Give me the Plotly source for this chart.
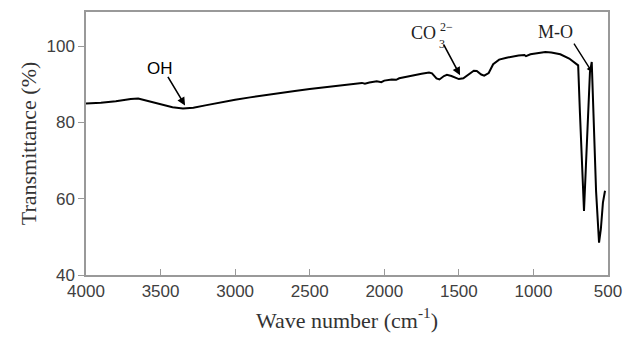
import plotly.graph_objects as go

wavenumber = [4000, 3900, 3800, 3700, 3650, 3600, 3500, 3420, 3350, 3280, 3200, 3100,
              3000, 2900, 2800, 2700, 2600, 2500, 2400, 2300, 2250, 2200, 2150, 2130,
              2100, 2050, 2020, 2000, 1950, 1920, 1900, 1850, 1800, 1750, 1700, 1680,
              1650, 1630, 1600, 1580, 1550, 1500, 1470, 1440, 1400, 1380, 1350, 1330,
              1300, 1270, 1230, 1180, 1140, 1100, 1060, 1050, 1020, 960, 920, 880,
              820, 760, 720, 700, 688, 672, 661, 648, 634, 621, 609, 600, 580, 560,
              548, 534, 520]
transmittance = [85.0, 85.2, 85.6, 86.2, 86.3, 85.8, 84.8, 84.0, 83.7, 83.9, 84.5, 85.3,
                 86.0, 86.6, 87.2, 87.8, 88.3, 88.8, 89.3, 89.7, 89.9, 90.1, 90.4, 90.2,
                 90.5, 90.8, 90.6, 91.0, 91.3, 91.2, 91.6, 92.0, 92.5, 92.8, 93.1, 92.9,
                 91.6, 91.3, 92.2, 92.5, 92.2, 91.4, 91.6, 92.5, 93.6, 93.5, 92.6, 92.3,
                 93.0, 95.3, 96.5, 97.0, 97.4, 97.6, 97.7, 97.4, 97.9, 98.3, 98.5, 98.4,
                 97.9, 96.8, 95.6, 95.0, 82.4, 68.0, 56.8, 68.7, 81.0, 93.2, 95.9, 85.0,
                 62.0, 48.5, 52.0, 59.0, 62.1]

x_ticks = [4000, 3500, 3000, 2500, 2000, 1500, 1000, 500]
y_ticks = [40, 60, 80, 100]

fig = go.Figure()
fig.add_trace(go.Scatter(x=wavenumber, y=transmittance, mode="lines",
                         line=dict(color="black", width=2), showlegend=False))

tickfont = dict(family="Liberation Sans, Arial, sans-serif", size=17, color="#404040")
titlefont = dict(family="Liberation Serif, Times New Roman, serif", size=22, color="#333333")

fig.update_xaxes(range=[4000, 500], tickvals=x_ticks, ticks="inside", ticklen=6,
                 tickcolor="#999999", showline=True, linecolor="#999999", linewidth=1.5,
                 mirror=True, showgrid=False, zeroline=False, tickfont=tickfont,
                 automargin=False,
                 title=dict(text="Wave number (cm<sup>-1</sup>)", font=titlefont, standoff=12))
fig.update_yaxes(range=[40, 109], tickvals=y_ticks, ticks="outside", ticklen=6,
                 tickcolor="#999999", showline=True, linecolor="#999999", linewidth=1.5,
                 mirror=True, showgrid=False, zeroline=False, tickfont=tickfont,
                 automargin=False,
                 title=dict(text="Transmittance (%)", font=titlefont, standoff=4))

sans = dict(family="Liberation Sans, Arial, sans-serif", size=17, color="black")
serif = dict(family="Liberation Serif, Times New Roman, serif", size=18, color="#222222")
small = dict(family="Liberation Serif, Times New Roman, serif", size=12, color="#222222")

anns = [
    dict(x=3504, y=94.2, text="OH", showarrow=False, font=sans),
    dict(x=3336, y=84.5, text="", showarrow=True, ax=-18, ay=-30, arrowhead=2,
         arrowsize=1, arrowwidth=1.6, arrowcolor="black"),
    dict(x=1734, y=103.4, text="CO", showarrow=False, font=serif),
    dict(x=1585, y=103.0, text="2−", showarrow=False, font=small, yanchor="bottom",
         borderpad=0),
    dict(x=1610, y=102.6, text="3", showarrow=False, font=small, yanchor="top",
         borderpad=0),
    dict(x=1492, y=92.4, text="", showarrow=True, ax=-17, ay=-32, arrowhead=2,
         arrowsize=1, arrowwidth=1.6, arrowcolor="black"),
    dict(x=849, y=103.7, text="M-O", showarrow=False, font=serif),
    dict(x=607, y=93.2, text="", showarrow=True, ax=-19, ay=-30, arrowhead=2,
         arrowsize=0.8, arrowwidth=1.4, arrowcolor="black"),
]
for a in anns:
    a.setdefault("xref", "x")
    a.setdefault("yref", "y")
    fig.add_annotation(**a)

fig.update_layout(width=624, height=341, margin=dict(l=86, r=16, t=12, b=66),
                  plot_bgcolor="white", paper_bgcolor="white")

fig.write_html("out.html")
